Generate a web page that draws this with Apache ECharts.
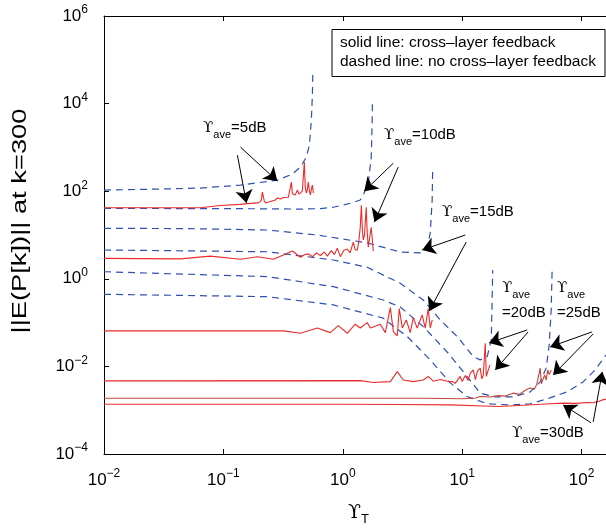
<!DOCTYPE html>
<html>
<head>
<meta charset="utf-8">
<script src="https://cdn.jsdelivr.net/npm/echarts@6.0.0/dist/echarts.min.js"></script>
<style>
  html, body { margin: 0; padding: 0; background: #fff; }
  #chart { width: 606px; height: 529px; }
</style>
</head>
<body>
<div id="chart"></div>
<script>
// values, [Upsilon_T, ||E(P[k])||]
const dashed5 = [[0.01, 106], [0.0297, 112], [0.0643, 118], [0.139, 138], [0.283, 179], [0.378, 245],
  [0.441, 355], [0.495, 603], [0.525, 1122], [0.545, 4169], [0.556, 15490], [0.561, 48980]];
const dashed10 = [[0.01, 40.5], [0.1, 40], [0.3, 39.5], [0.441, 39], [0.65, 40], [0.834, 43], [1.16, 53],
  [1.40, 63], [1.485, 82], [1.634, 153], [1.731, 600], [1.76, 3570], [1.77, 11970]];
const dashed15 = [[0.01, 14.2], [0.05, 14], [0.233, 13], [0.612, 10], [1.6, 6.6], [3.03, 4.1], [4.45, 3.9],
  [5.09, 5.3], [5.4, 11], [5.6, 63], [5.66, 355]];
const dashed20 = [[0.01, 4.54], [0.233, 4.15], [0.834, 2.69], [1.6, 1.83], [3.03, 0.789], [4.72, 0.328],
  [6.55, 0.115], [9.08, 0.048], [12.4, 0.0167], [14.15, 0.0141], [16.2, 0.0167], [17.5, 0.040],
  [17.8, 0.328], [18.0, 1.59]];
const dashed25 = [[0.01, 1.45], [0.233, 1.12], [0.834, 0.661], [2.18, 0.328], [3.03, 0.227], [4.72, 0.0809],
  [7.64, 0.020], [11.0, 0.00585], [14.15, 0.00245], [18.9, 0.00201], [26.7, 0.00201], [37.1, 0.00262],
  [45.0, 0.00443], [50.5, 0.00925], [53.5, 0.0309], [55.6, 0.195], [56.6, 1.59]];
const dashed30 = [[0.01, 0.443], [0.233, 0.391], [0.834, 0.253], [2.18, 0.126], [3.47, 0.0478], [5.4, 0.0141],
  [7.94, 0.00421], [11.0, 0.00205], [16.2, 0.0014], [25.2, 0.00132], [37.1, 0.0014], [54.5, 0.00191],
  [75.6, 0.00262], [103, 0.00443], [130, 0.00834], [160, 0.0183]];

const solid5 = [[0.01, 42], [0.064, 42], [0.094, 47], [0.139, 50], [0.159, 52], [0.196, 54], [0.207, 60],
  [0.212, 95], [0.22, 60], [0.225, 54], [0.247, 58], [0.27, 62], [0.283, 70], [0.30, 66], [0.318, 72],
  [0.35, 73], [0.36, 80], [0.371, 161], [0.378, 88], [0.385, 91], [0.40, 82], [0.416, 106], [0.43, 86],
  [0.441, 82], [0.458, 100], [0.476, 461], [0.485, 120], [0.495, 91], [0.505, 110], [0.514, 161],
  [0.525, 100], [0.535, 82], [0.545, 110], [0.556, 138], [0.567, 91]];
const solid10 = [[0.01, 2.93], [0.0436, 2.85], [0.0778, 3.3], [0.139, 2.8], [0.193, 3.2], [0.262, 2.8],
  [0.318, 3.5], [0.378, 4.3], [0.441, 3.1], [0.48, 3.6], [0.514, 3.7], [0.56, 3.2], [0.60, 3.9], [0.649, 3.4],
  [0.70, 4.1], [0.741, 3.3], [0.80, 4.4], [0.85, 3.6], [0.90, 5.0], [0.953, 3.2], [1.02, 4.5], [1.09, 4.8],
  [1.15, 3.9], [1.224, 6.9], [1.27, 4.6], [1.32, 4.5], [1.36, 7], [1.40, 15], [1.43, 48], [1.46, 12],
  [1.485, 7.7], [1.52, 10], [1.57, 43], [1.60, 12], [1.634, 5.3], [1.68, 9], [1.73, 15], [1.80, 4.3]];
const solid15 = [[0.01, 0.0646], [0.318, 0.0646], [0.441, 0.057], [0.612, 0.0755], [0.785, 0.059],
  [0.916, 0.085], [1.09, 0.057], [1.27, 0.092], [1.40, 0.0755], [1.60, 0.10], [1.70, 0.0755], [2.06, 0.092],
  [2.27, 0.059], [2.50, 0.22], [2.65, 0.062], [2.86, 0.05], [2.97, 0.21], [3.15, 0.0755], [3.40, 0.115],
  [3.67, 0.059], [3.89, 0.128], [4.20, 0.075], [4.62, 0.15], [4.90, 0.075], [5.19, 0.21], [5.40, 0.0755],
  [5.61, 0.115]];
const solid20 = [[0.01, 0.00467], [1.40, 0.00474], [1.80, 0.0043], [2.50, 0.0045], [2.86, 0.0076],
  [3.21, 0.0049], [3.89, 0.0045], [4.72, 0.0049], [5.19, 0.0059], [5.72, 0.0046], [6.55, 0.0050],
  [7.64, 0.0045], [8.24, 0.0045], [8.73, 0.0041], [9.62, 0.0059], [10.0, 0.0045], [10.6, 0.0062],
  [11.2, 0.0048], [11.7, 0.0070], [12.36, 0.0083], [12.9, 0.0050], [13.4, 0.0078], [14.15, 0.0091],
  [14.6, 0.0052], [15.0, 0.0062], [15.6, 0.0338], [15.9, 0.0059], [16.5, 0.0082], [17.1, 0.0108]];
const solid25 = [[0.01, 0.00188], [5, 0.00188], [10, 0.00182], [13, 0.0019], [14.15, 0.00205], [17, 0.002],
  [20, 0.00215], [23, 0.0021], [26.7, 0.00245], [30, 0.0023], [34, 0.0029], [37.1, 0.0032], [40, 0.003],
  [42, 0.0038], [45, 0.0091], [46, 0.004], [49, 0.0064], [50.5, 0.0049], [52, 0.0083], [53.5, 0.0065],
  [55.6, 0.0083]];
const solid30 = [[0.01, 0.00137], [1, 0.00137], [3, 0.00135], [8, 0.00132], [15, 0.00125], [20, 0.00121],
  [30, 0.00128], [50, 0.00138], [70, 0.00145], [90, 0.00143], [110, 0.0015], [125, 0.00148], [140, 0.0016],
  [150, 0.00172], [160, 0.00179]];

// arrows: [tail, head]
const arrows = [
  [[0.131, 665], [0.156, 53.6]], [[0.139, 1014], [0.283, 170]],
  [[2.65, 437], [1.51, 100]], [[2.91, 355], [1.84, 19.7]],
  [[10.6, 9.98], [4.62, 4.54]], [[10.8, 6.91], [5.30, 0.1845]],
  [[35.0, 0.0679], [16.8, 0.0344]], [[35.6, 0.0612], [18.9, 0.00832]],
  [[122, 0.0612], [54.5, 0.0279]], [[125, 0.0551], [57.7, 0.0064]],
  [[120, 0.000515], [70.0, 0.00132]], [[125, 0.000542], [149, 0.0075]]
];

const FONT = '"Liberation Sans", Arial, sans-serif';
const RED = '#ec2b2b';
const BLUE = '#2f50b0';

const chart = echarts.init(document.getElementById('chart'));

function powLabel(v) {
  const e = Math.round(Math.log10(v));
  return '{b|10}{e|' + String(e).replace('-', '\u2212') + '}';
}
const tickRich = {
  b: { fontFamily: FONT, fontSize: 17, lineHeight: 24, verticalAlign: 'middle', color: '#000' },
  e: { fontFamily: FONT, fontSize: 12, lineHeight: 10, verticalAlign: 'top', color: '#000' }
};
const annRich = {
  u: { fontFamily: '"DejaVu Serif", serif', fontSize: 15, lineHeight: 24, verticalAlign: 'middle', color: '#000' },
  s: { fontFamily: FONT, fontSize: 11, lineHeight: 11, verticalAlign: 'bottom', color: '#000' },
  m: { fontFamily: FONT, fontSize: 15, lineHeight: 24, verticalAlign: 'middle', color: '#000' }
};
const axisCommon = {
  type: 'log',
  axisLine: { show: true, lineStyle: { color: '#000', width: 1 } },
  axisTick: { show: true, inside: true, length: 5, lineStyle: { color: '#000' } },
  splitLine: { show: false },
  minorTick: { show: false }
};

function dashed(data) {
  return { type: 'line', data: data, symbol: 'none', lineStyle: { color: BLUE, width: 1.2, type: [7, 5] } };
}
function solid(data, color) {
  return { type: 'line', data: data, symbol: 'none', lineStyle: { color: color || RED, width: 1.1 } };
}

function ann(text, x, y) {
  return { type: 'text', x: x, y: y, style: { text: text, rich: annRich, align: 'left', verticalAlign: 'top' } };
}

const series = [
  dashed(dashed5), dashed(dashed10), dashed(dashed15), dashed(dashed20), dashed(dashed25), dashed(dashed30),
  solid(solid5), solid(solid10), solid(solid15), solid(solid20), solid(solid25, '#c0453b'), solid(solid30)
];
series.push({
  type: 'line', data: [], symbol: 'none',
  markLine: {
    silent: true,
    symbol: ['none', 'arrow'],
    symbolSize: 13,
    label: { show: false },
    lineStyle: { color: '#000', width: 1, type: 'solid' },
    emphasis: { disabled: true },
    data: arrows.map(a => [{ coord: a[0] }, { coord: a[1] }])
  }
});

const option = {
  animation: false,
  grid: { left: 104, right: 0, top: 16, bottom: 75, containLabel: false },
  xAxis: [
    Object.assign({}, axisCommon, {
      min: 0.01, max: 160, position: 'bottom',
      axisLabel: { margin: 14, formatter: powLabel, rich: tickRich, showMaxLabel: false }
    }),
    Object.assign({}, axisCommon, {
      min: 0.01, max: 160, position: 'top', axisLabel: { show: false }
    })
  ],
  yAxis: Object.assign({}, axisCommon, {
    logBase: 100, min: 1e-4, max: 1e6,
    axisLabel: { margin: 16, formatter: powLabel, rich: tickRich }
  }),
  series: series,
  graphic: [
    { type: 'rect', shape: { x: 332, y: 29.5, width: 273, height: 47 },
      style: { fill: '#fff', stroke: '#000', lineWidth: 1 }, z: 10 },
    { type: 'text', x: 340, y: 42.5, z: 11,
      style: { text: 'solid line: cross\u2013layer feedback', font: '15.5px ' + FONT, fill: '#000', verticalAlign: 'middle' } },
    { type: 'text', x: 340, y: 61.5, z: 11,
      style: { text: 'dashed line: no cross\u2013layer feedback', font: '15.5px ' + FONT, fill: '#000', verticalAlign: 'middle' } },
    ann('{u|\u03d2}{s|ave}{m|=5dB}', 203, 116),
    ann('{u|\u03d2}{s|ave}{m|=10dB}', 384, 123),
    ann('{u|\u03d2}{s|ave}{m|=15dB}', 442, 200),
    ann('{u|\u03d2}{s|ave}', 502, 276),
    ann('{m|=20dB}', 502, 301),
    ann('{u|\u03d2}{s|ave}', 557, 276),
    ann('{m|=25dB}', 557, 301),
    ann('{u|\u03d2}{s|ave}{m|=30dB}', 512, 421),
    { type: 'text', x: 348, y: 500,
      style: { text: '{u|\u03d2}{t|T}', align: 'left', verticalAlign: 'top',
        rich: {
          u: { fontFamily: '"DejaVu Serif", serif', fontSize: 19, lineHeight: 26, verticalAlign: 'middle', color: '#000' },
          t: { fontFamily: FONT, fontSize: 13, lineHeight: 13, verticalAlign: 'bottom', color: '#000' }
        } } },
    { type: 'text', x: 20, y: 221, rotation: Math.PI / 2, scaleX: 1.3,
      style: { text: '||E(P[k])|| at k=300', font: '21px ' + FONT, fill: '#000', align: 'center', verticalAlign: 'middle' } }
  ]
};

chart.setOption(option);
</script>
</body>
</html>
